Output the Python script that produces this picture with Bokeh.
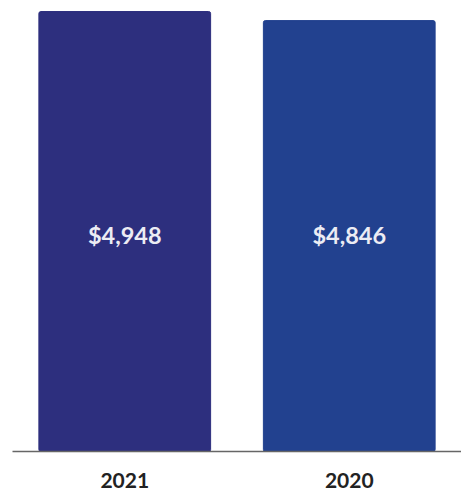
from bokeh.plotting import figure
from bokeh.models import ColumnDataSource, Range1d, FactorRange
from bokeh.embed import file_html
from bokeh.resources import INLINE
from bokeh.core.properties import value

years = ["2021", "2020"]
amounts = [4948, 4846]
colors = ["#2d2f7e", "#22418f"]
labels = ["${:,}".format(a) for a in amounts]

src = ColumnDataSource(dict(
    x=years, top=amounts, color=colors, label=labels,
    mid=[max(amounts) / 2] * len(amounts),
))

p = figure(
    x_range=FactorRange(*years), y_range=Range1d(0, 4982),
    width=461, height=490, output_backend="svg", toolbar_location=None,
    min_border_left=12, min_border_right=0, min_border_top=8, min_border_bottom=3,
)
p.vbar(x="x", top="top", width=0.765, color="color", source=src, border_radius=2)
p.text(x="x", y="mid", text="label", source=src, text_align="center",
       text_baseline="middle", text_color="#ececf4", text_font=value("Lato"),
       text_font_style="bold", text_font_size="23.5px", y_offset=3)

p.yaxis.visible = False
p.grid.visible = False
p.outline_line_color = None
p.background_fill_color = "white"
ax = p.xaxis[0]
ax.axis_line_color = "#666666"
ax.axis_line_width = 1.5
ax.major_tick_line_color = None
ax.minor_tick_line_color = None
ax.major_label_text_font = "Lato"
ax.major_label_text_font_style = "bold"
ax.major_label_text_font_size = "21px"
ax.major_label_text_color = "#222222"
ax.major_label_standoff = 15

open("out.html", "w").write(file_html(p, INLINE))
